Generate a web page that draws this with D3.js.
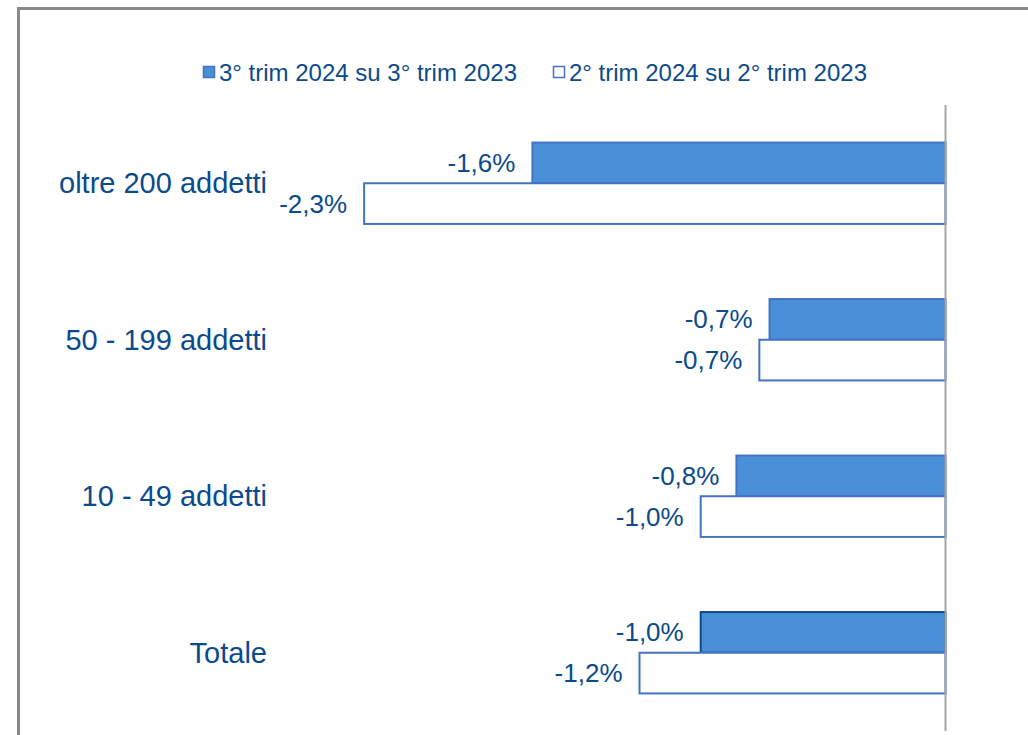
<!DOCTYPE html>
<html>
<head>
<meta charset="utf-8">
<script src="https://cdn.jsdelivr.net/npm/d3@7"></script>
<style>
  html, body { margin: 0; padding: 0; background: #ffffff; }
  svg { display: block; font-family: "Liberation Sans", Arial, sans-serif; }
</style>
</head>
<body>
<svg id="chart" width="1028" height="735"></svg>
<script>
// ---- Data ----
const categories = ["oltre 200 addetti", "50 - 199 addetti", "10 - 49 addetti", "Totale"];
const seriesNames = ["3° trim 2024 su 3° trim 2023", "2° trim 2024 su 2° trim 2023"];
const q3Values = [-1.62, -0.69, -0.82, -0.96];
const q2Values = [-2.28, -0.73, -0.96, -1.20];
const xDomain = [-2.5, 0];

// ---- Layout / style ----
const W = 1028, H = 735;
const textColor = "#0b4a8c";
const barFill = "#4a90d9";
const barStroke = "#4472c4";
const svg = d3.select("#chart");

// outer frame (extends beyond the visible area on right and bottom)
svg.append("rect")
  .attr("x", 18.5).attr("y", 8.5)
  .attr("width", W + 20).attr("height", H + 20)
  .attr("fill", "none").attr("stroke", "#8a8a8a").attr("stroke-width", 3);

const x = d3.scaleLinear().domain(xDomain).range([945.5 - 2.5 * 255, 945.5]);
const y = d3.scaleBand().domain(categories).range([105, 731])
  .paddingInner(0.48).paddingOuter(0.24);
const ySub = d3.scaleBand().domain([0, 1]).range([0, y.bandwidth()]).padding(0);

const rows = categories.map((c, i) => ({ cat: c, vals: [q3Values[i], q2Values[i]] }));
const fmt = v => v.toFixed(1).replace(".", ",") + "%";

const g = svg.append("g");
rows.forEach((r, i) => {
  r.vals.forEach((v, s) => {
    const y0 = y(r.cat) + ySub(s);
    const isTot = (r.cat === "Totale" && s === 0);
    g.append("rect")
      .attr("x", x(v)).attr("y", y0)
      .attr("width", x(0) - x(v)).attr("height", ySub.bandwidth())
      .attr("fill", s === 0 ? barFill : "#ffffff")
      .attr("stroke", isTot ? "#0b4a8c" : barStroke)
      .attr("stroke-width", 2);
    g.append("text")
      .attr("x", x(v) - 17).attr("y", y0 + ySub.bandwidth() / 2)
      .attr("text-anchor", "end").attr("dominant-baseline", "central")
      .attr("fill", textColor).attr("font-size", 26)
      .text(fmt(v));
  });
});

// zero axis line
svg.append("line")
  .attr("x1", x(0)).attr("x2", x(0))
  .attr("y1", 105).attr("y2", 731)
  .attr("stroke", "#a6a6a0").attr("stroke-width", 2);

// category labels
const yAxis = d3.axisLeft(y).tickSize(0).tickPadding(0);
const ya = svg.append("g").attr("transform", "translate(267,0)").call(yAxis);
ya.select(".domain").remove();
ya.selectAll("text")
  .attr("fill", textColor).attr("font-size", 29)
  .attr("font-family", "'Liberation Sans', Arial, sans-serif")
  .attr("dy", null).attr("dominant-baseline", "central");

// legend
const legendPos = [203, 553];
seriesNames.forEach((name, s) => {
  const lg = svg.append("g").attr("transform", `translate(${legendPos[s]},72)`);
  lg.append("rect").attr("x", 0.5).attr("y", -5.5).attr("width", 11).attr("height", 11)
    .attr("fill", s === 0 ? barFill : "#ffffff").attr("stroke", barStroke).attr("stroke-width", 1.5);
  lg.append("text").attr("x", 16).attr("y", 0)
    .attr("dominant-baseline", "central").attr("fill", textColor).attr("font-size", 24)
    .text(name);
});
</script>
</body>
</html>
